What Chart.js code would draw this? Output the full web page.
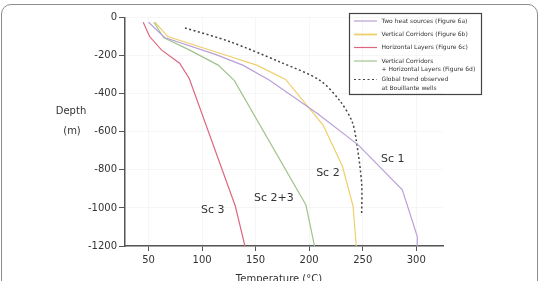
<!DOCTYPE html>
<html>
<head>
<meta charset="utf-8">
<script src="https://cdn.jsdelivr.net/npm/chart.js@4/dist/chart.umd.min.js"></script>
<style>
  html, body { margin: 0; padding: 0; background: #fff; overflow: hidden; }
  #wrap { position: relative; width: 539px; height: 281px; }
  #frame {
    position: absolute; left: 1px; top: 4px; width: 535px; height: 320px;
    border: 1.3px solid #8c8c8c; border-radius: 10px; pointer-events: none;
  }
</style>
</head>
<body>
<div id="wrap">
  <canvas id="chart" width="539" height="281"></canvas>
  <div id="frame"></div>
</div>
<script>
// Depth profiles (temperature in °C, depth in m)
const tempTicks = [50, 100, 150, 200, 250, 300];
const depthTicks = [0, -200, -400, -600, -800, -1000, -1200];

const sc1Temp  = [50, 65, 113, 138, 163, 208, 246, 287, 301, 301];
const sc1Depth = [-25, -105, -195, -250, -330, -505, -670, -905, -1150, -1200];

const sc2Temp  = [56, 68, 126, 151, 178, 213, 231, 241, 244];
const sc2Depth = [-25, -100, -205, -250, -325, -565, -780, -990, -1200];

const sc3Temp  = [45, 51, 62, 79, 88, 131, 140];
const sc3Depth = [-25, -100, -170, -240, -320, -990, -1200];

const sc23Temp  = [55, 64, 88, 115, 130, 197, 205];
const sc23Depth = [-25, -105, -170, -250, -330, -985, -1200];

const trendTemp  = [84, 126, 172, 210, 229, 240, 244, 249, 249];
const trendDepth = [-55, -127, -232, -330, -440, -545, -645, -870, -1040];

// Scenario labels placed on the plot
const scLabels = ['Sc 1', 'Sc 2', 'Sc 2+3', 'Sc 3'];
const scLabelTemp = [278, 217.5, 167, 110];
const scLabelDepth = [-743, -815, -949, -1014];

// Legend rows (text lines per entry)
const legendText = [
    ['Two heat sources (Figure 6a)'],
    ['Vertical Corridors (Figure 6b)'],
    ['Horizontal Layers (Figure 6c)'],
    ['Vertical Corridors', '+ Horizontal Layers (Figure 6d)'],
    ['Global trend observed', 'at Bouillante wells']
];

function pts(xs, ys) {
    return xs.map((x, i) => ({ x: x, y: ys[i] }));
}

const FONT = '"DejaVu Sans", Verdana, sans-serif';

const overlay = {
    id: 'overlay',
    afterDraw(chart) {
        const ctx = chart.ctx;
        const x = chart.scales.x, y = chart.scales.y;
        ctx.save();

        // scenario labels
        ctx.fillStyle = '#333';
        ctx.font = '11px ' + FONT;
        ctx.textAlign = 'center';
        ctx.textBaseline = 'middle';
        scLabels.forEach((t, i) => {
            ctx.fillText(t, x.getPixelForValue(scLabelTemp[i]), y.getPixelForValue(scLabelDepth[i]));
        });

        // axis titles
        ctx.font = '10px ' + FONT;
        ctx.fillText('Depth', 71, 111);
        ctx.fillText('(m)', 72, 131);
        ctx.fillText('Temperature (°C)', 279, 279);

        // legend box
        ctx.strokeStyle = '#444';
        ctx.lineWidth = 1.2;
        ctx.strokeRect(349.5, 13.5, 132, 81);
        const rowY = [21, 34.5, 47.5, 61, 79.5];
        ctx.font = '6px ' + FONT;
        ctx.textAlign = 'left';
        ctx.fillStyle = '#333';
        chart.data.datasets.forEach((ds, i) => {
            ctx.beginPath();
            ctx.strokeStyle = ds.borderColor;
            ctx.lineWidth = i === 1 ? 1.8 : 1.2;
            ctx.setLineDash(ds.borderDash || []);
            ctx.moveTo(354, rowY[i]);
            ctx.lineTo(377, rowY[i]);
            ctx.stroke();
            ctx.setLineDash([]);
            legendText[i].forEach((line, j) => {
                ctx.fillText(line, 381.5, rowY[i] + j * 8.5);
            });
        });
        ctx.restore();
    }
};

new Chart(document.getElementById('chart'), {
    type: 'line',
    data: {
        datasets: [{
            label: 'Two heat sources (Figure 6a)',
            data: pts(sc1Temp, sc1Depth),
            borderColor: '#b9a0d6',
            borderWidth: 1.2
        }, {
            label: 'Vertical Corridors (Figure 6b)',
            data: pts(sc2Temp, sc2Depth),
            borderColor: '#eecf6c',
            borderWidth: 1.2
        }, {
            label: 'Horizontal Layers (Figure 6c)',
            data: pts(sc3Temp, sc3Depth),
            borderColor: '#df6680',
            borderWidth: 1.2
        }, {
            label: 'Vertical Corridors + Horizontal Layers (Figure 6d)',
            data: pts(sc23Temp, sc23Depth),
            borderColor: '#9fc48d',
            borderWidth: 1.2
        }, {
            label: 'Global trend observed at Bouillante wells',
            data: pts(trendTemp, trendDepth),
            borderColor: '#444',
            borderWidth: 1.5,
            borderDash: [2, 2.5],
            tension: 0.3
        }]
    },
    options: {
        responsive: false,
        animation: false,
        events: [],
        layout: { padding: { left: 0, top: 17.5, right: 96, bottom: 0 } },
        elements: { point: { radius: 0 } },
        plugins: { legend: { display: false }, tooltip: { enabled: false } },
        scales: {
            x: {
                type: 'linear',
                min: 28,
                max: 325,
                afterBuildTicks: s => { s.ticks = tempTicks.map(v => ({ value: v })); },
                afterFit: s => { s.height = 35; },
                border: { color: '#555', width: 1.5 },
                grid: { color: 'rgba(0,0,0,0.035)', tickColor: '#555', tickLength: 5, lineWidth: 1 },
                ticks: {
                    color: '#333', font: { family: FONT, size: 10 }, padding: 3, maxRotation: 0,
                    callback: v => String(v)
                }
            },
            y: {
                type: 'linear',
                min: -1200,
                max: 0,
                afterBuildTicks: s => { s.ticks = depthTicks.map(v => ({ value: v })); },
                afterFit: s => { s.width = 125; },
                border: { color: '#555', width: 1.5 },
                grid: { color: 'rgba(0,0,0,0.035)', tickColor: '#555', tickLength: 6, lineWidth: 1 },
                ticks: {
                    color: '#333', font: { family: FONT, size: 10 }, padding: 2,
                    callback: v => String(v)
                }
            }
        }
    },
    plugins: [overlay]
});
</script>
</body>
</html>
